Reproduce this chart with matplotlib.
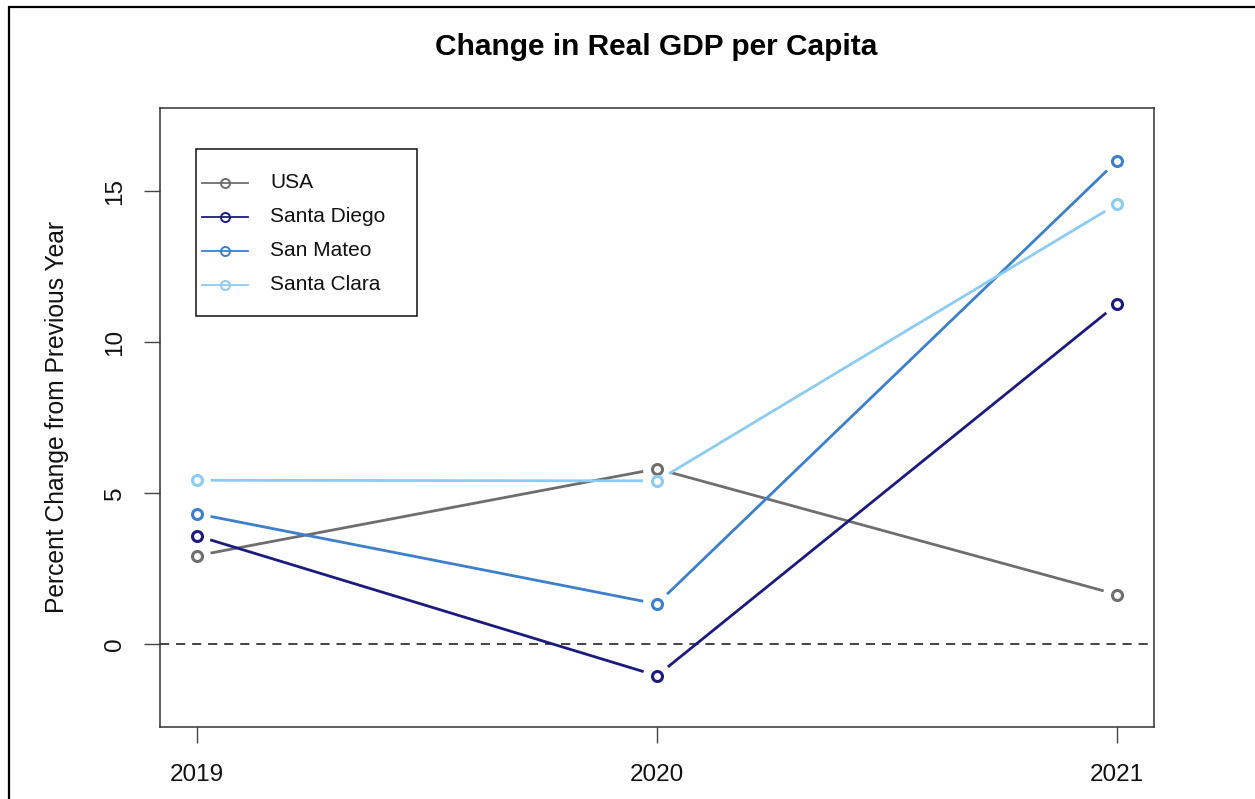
import matplotlib.pyplot as plt
from matplotlib.lines import Line2D
from matplotlib.patches import Rectangle
import numpy as np

plt.rcParams['font.family'] = ['Liberation Sans', 'DejaVu Sans']

years = [2019, 2020, 2021]
usa = [2.92, 5.80, 1.63]
san_diego = [3.58, -1.06, 11.26]
san_mateo = [4.31, 1.32, 16.01]
santa_clara = [5.42, 5.40, 14.58]

names = ['USA', 'Santa Diego', 'San Mateo', 'Santa Clara']
series = [usa, san_diego, san_mateo, santa_clara]
colors = ['#6e6e6e', '#1b1b7d', '#3c7fcb', '#8ccbf4']

W, H = 1255, 799
fig = plt.figure(figsize=(W / 100, H / 100), dpi=100)
ax = fig.add_axes([160 / W, 1 - 727 / H, 994 / W, 619 / H])

# R style limits: ylim c(-2, 17) padded by 4%
ax.set_xlim(2019 - 0.08, 2021 + 0.08)
ax.set_ylim(-2 - 0.76, 17 + 0.76)


def gapped_line(ax, xs, ys, gap, **kw):
    # like type="b": segments stop short of each point
    pts = ax.transData.transform(np.column_stack([xs, ys]))
    inv = ax.transData.inverted()
    for p, q in zip(pts[:-1], pts[1:]):
        d = q - p
        u = d / np.hypot(*d)
        seg = inv.transform(np.array([p + u * gap, q - u * gap]))
        ax.plot(seg[:, 0], seg[:, 1], **kw)


ax.axhline(0, color='#111111', lw=1.1, ls=(0, (6, 4.5)), zorder=1)

for vals, c in zip(series, colors):
    gapped_line(ax, years, vals, 14, color=c, lw=2.0, solid_capstyle='butt', zorder=2)
    ax.plot(years, vals, 'o', mfc='none', mec=c, ms=7.2, mew=2.2, zorder=3)

ax.set_xticks(years)
ax.set_xticklabels([str(y) for y in years])
ax.set_yticks([0, 5, 10, 15])
ax.tick_params(direction='out', length=11.5, width=1.0, color='#444444',
               labelsize=17.5, labelcolor='#111111')
ax.tick_params(axis='x', pad=15)
ax.tick_params(axis='y', pad=13)
plt.setp(ax.get_yticklabels(), rotation=90, va='center')
for s in ax.spines.values():
    s.set_linewidth(1.1)
    s.set_color('#333333')

# legend box, laid out in pixels from the axes corner
def to_ax(x, y):
    return (x - 160) / 994, (727 - y) / 619

x0, y0 = to_ax(196, 316)
x1, y1 = to_ax(417, 149)
ax.add_patch(Rectangle((x0, y0), x1 - x0, y1 - y0, transform=ax.transAxes,
                       fill=False, ec='#111111', lw=1.1, zorder=5, clip_on=False))
for i, (name, c) in enumerate(zip(names, colors)):
    row = 183 + 34 * i
    hx0, hy = to_ax(202, row)
    hx1, _ = to_ax(248, row)
    mx, _ = to_ax(225, row)
    tx, _ = to_ax(270, row)
    ax.add_line(Line2D([hx0, hx1], [hy, hy], color=c, lw=1.3,
                       transform=ax.transAxes, zorder=6))
    ax.add_line(Line2D([mx], [hy], marker='o', mfc='none', mec=c, ms=6.5,
                       mew=1.4, transform=ax.transAxes, zorder=6))
    ax.text(tx, hy, name, transform=ax.transAxes, fontsize=15,
            ha='left', va='center', color='#111111', zorder=6)

fig.text(656 / W, 1 - 47 / H, 'Change in Real GDP per Capita',
         fontsize=21.5, fontweight='bold', ha='center', va='center')
fig.text(57 / W, 1 - 417 / H, 'Percent Change from Previous Year',
         fontsize=17.7, rotation=90, ha='center', va='center', color='#111111')

# outer frame (right and bottom edges fall off the canvas)
fig.add_artist(Rectangle((9 / W, -0.1), 1.2, 1.1 - 7 / H, transform=fig.transFigure,
                         fill=False, ec='black', lw=1.6))

fig.savefig('out.png', dpi=100)
